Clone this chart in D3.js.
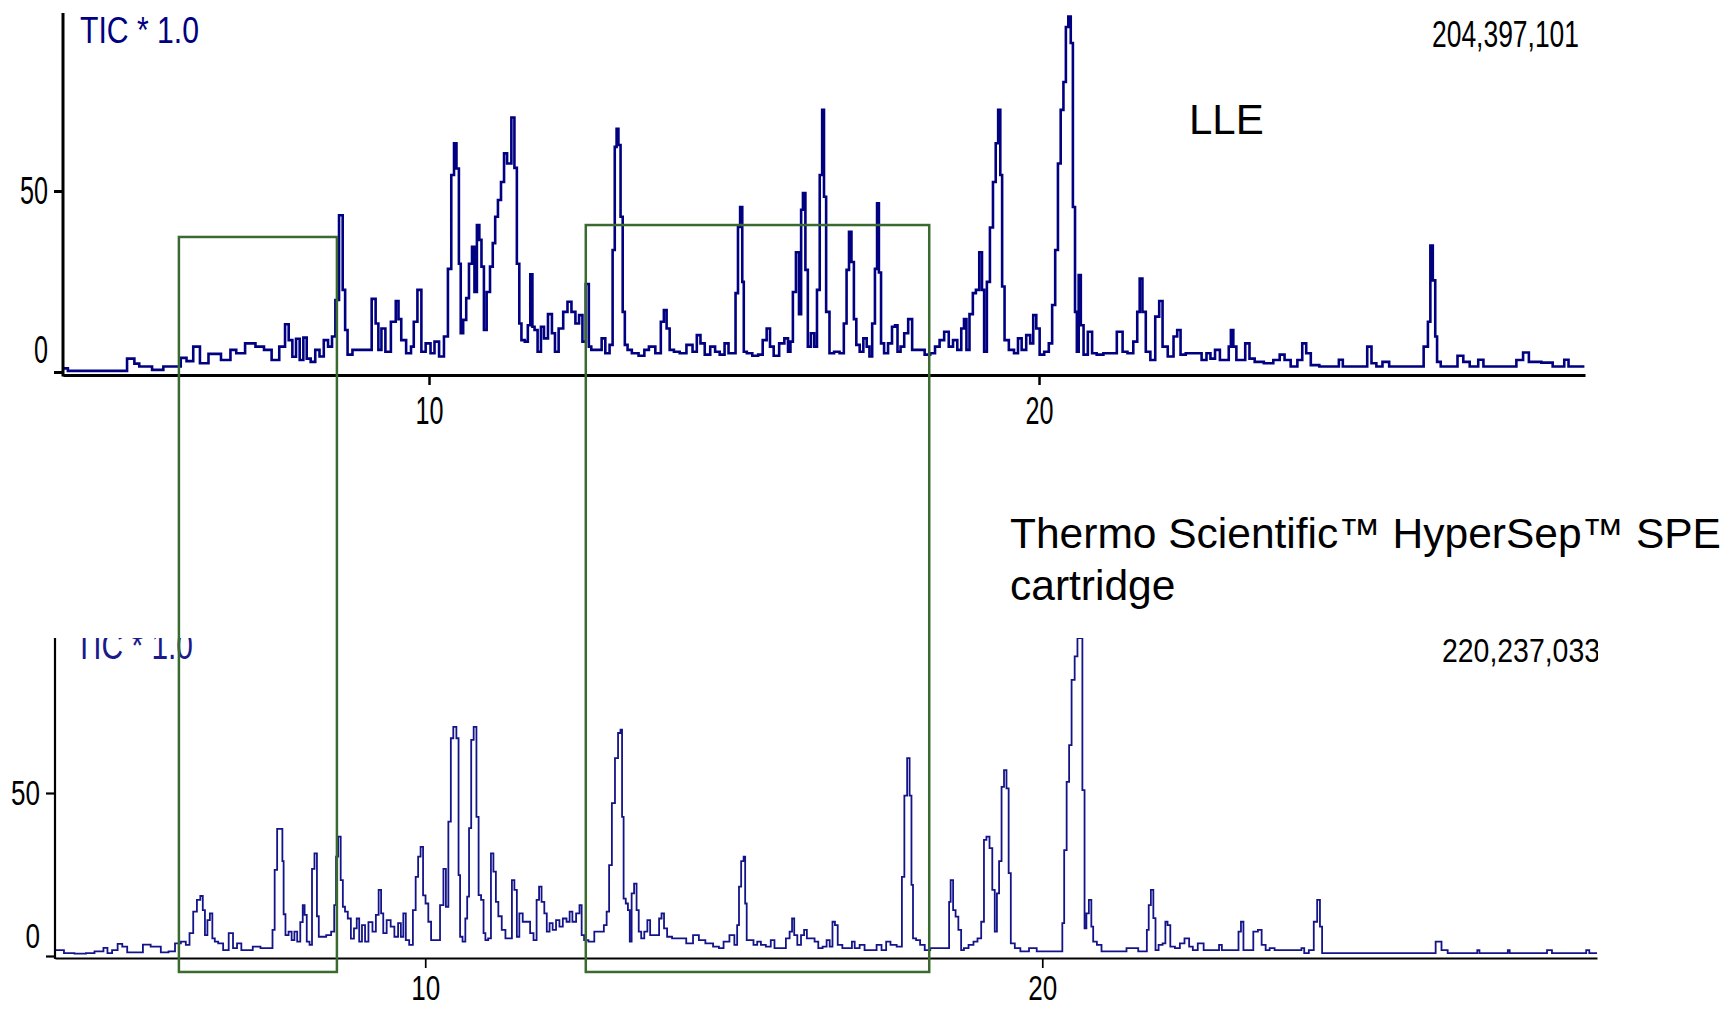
<!DOCTYPE html>
<html>
<head>
<meta charset="utf-8">
<script src="https://cdn.jsdelivr.net/npm/d3@7"></script>
<style>
  html, body { margin: 0; padding: 0; background: #fff; overflow: hidden; }
</style>
</head>
<body>
<div id="chart"></div>
<script>
// retention time (min), TIC signal (% of largest peak)
const lleTrace = [
  [4.00,1.0],[4.16,0.3],[4.97,0.3],[5.13,3.7],[5.21,2.3],[5.29,1.5],[5.63,0.6],[5.66,1.5],[5.88,1.5],[5.98,3.9],
  [6.07,3.0],[6.20,7.0],[6.29,2.4],[6.48,5.0],[6.70,3.3],[6.79,6.1],[6.89,5.2],[7.08,7.9],[7.23,7.0],[7.36,6.1],
  [7.48,3.3],[7.61,7.0],[7.67,13.2],[7.73,8.8],[7.79,4.2],[7.85,9.2],[7.91,3.3],[7.97,9.5],[8.02,3.7],[8.10,2.8],
  [8.17,6.1],[8.24,4.3],[8.31,8.8],[8.38,7.0],[8.44,9.8],[8.49,19.9],[8.56,43.3],[8.61,22.7],[8.64,11.6],[8.69,4.8],
  [8.80,6.1],[9.02,6.1],[9.10,20.2],[9.15,13.4],[9.19,6.1],[9.25,12.0],[9.32,5.6],[9.43,13.9],[9.48,19.6],[9.52,14.6],
  [9.57,8.8],[9.68,5.2],[9.73,7.0],[9.77,13.9],[9.85,22.7],[9.90,5.6],[9.99,7.9],[10.06,5.2],[10.12,8.4],[10.21,4.3],
  [10.28,9.8],[10.34,28.5],[10.39,54.4],[10.43,63.2],[10.47,56.2],[10.51,29.9],[10.53,10.7],[10.59,14.4],[10.63,20.4],[10.68,29.9],
  [10.73,34.6],[10.76,22.1],[10.81,40.6],[10.84,36.5],[10.88,29.1],[10.92,11.6],[10.97,22.1],[11.03,29.1],[11.06,35.6],[11.11,42.9],
  [11.15,47.5],[11.21,52.5],[11.25,60.4],[11.31,57.6],[11.39,70.3],[11.41,56.4],[11.47,29.9],[11.49,13.4],[11.54,8.8],[11.60,8.4],
  [11.64,12.9],[11.68,27.0],[11.71,12.5],[11.75,11.6],[11.81,5.6],[11.86,12.5],[11.91,9.3],[11.99,16.0],[12.04,10.7],[12.09,5.6],
  [12.16,12.0],[12.24,16.6],[12.30,19.4],[12.37,16.6],[12.43,13.4],[12.49,15.7],[12.54,8.4],[12.60,24.3],[12.64,7.0],[12.68,6.1],
  [12.81,6.1],[12.85,9.3],[12.93,5.2],[12.99,7.5],[13.03,33.7],[13.06,62.2],[13.09,67.2],[13.12,62.7],[13.16,42.9],[13.19,16.6],
  [13.23,7.5],[13.28,6.1],[13.37,5.2],[13.50,4.5],[13.56,6.1],[13.65,7.0],[13.77,5.2],[13.83,13.9],[13.87,17.1],[13.92,12.0],
  [13.97,6.1],[14.06,5.6],[14.16,5.2],[14.28,7.5],[14.36,5.6],[14.42,10.2],[14.48,7.9],[14.56,4.8],[14.66,7.0],[14.72,5.6],
  [14.81,4.8],[14.88,7.9],[14.94,5.2],[15.00,5.2],[15.05,21.8],[15.08,40.1],[15.12,45.6],[15.15,24.9],[15.17,5.6],[15.25,5.2],
  [15.35,4.5],[15.44,4.8],[15.50,8.8],[15.57,12.0],[15.61,7.0],[15.69,4.5],[15.79,7.9],[15.86,9.3],[15.91,5.6],[15.94,8.4],
  [15.99,22.1],[16.04,33.1],[16.09,16.0],[16.11,44.8],[16.15,49.4],[16.19,28.2],[16.23,7.0],[16.29,10.7],[16.34,7.0],[16.38,22.7],
  [16.43,54.4],[16.46,72.4],[16.49,48.4],[16.53,16.6],[16.60,5.2],[16.68,5.6],[16.78,5.2],[16.82,13.4],[16.87,28.2],[16.90,38.7],
  [16.95,30.4],[16.98,14.6],[17.03,7.5],[17.09,5.6],[17.15,9.3],[17.20,7.0],[17.24,4.3],[17.29,13.4],[17.33,28.5],[17.36,46.6],
  [17.39,27.5],[17.43,7.9],[17.49,5.2],[17.56,7.9],[17.62,12.5],[17.66,12.9],[17.70,5.6],[17.76,7.0],[17.82,10.7],[17.89,14.6],
  [17.95,6.1],[18.08,6.1],[18.17,4.8],[18.26,5.2],[18.33,7.0],[18.41,8.8],[18.48,11.1],[18.56,7.0],[18.62,8.8],[18.70,6.1],
  [18.75,12.0],[18.79,14.6],[18.83,6.1],[18.89,16.0],[18.94,21.8],[18.99,22.7],[19.05,33.1],[19.08,22.7],[19.12,5.6],[19.17,24.9],
  [19.22,39.9],[19.27,52.5],[19.31,63.2],[19.35,72.4],[19.38,54.4],[19.41,23.6],[19.46,8.8],[19.55,6.1],[19.63,5.2],[19.68,9.3],
  [19.75,6.1],[19.83,10.2],[19.88,7.9],[19.93,15.7],[19.98,12.0],[20.04,4.8],[20.13,5.6],[20.19,7.9],[20.24,18.5],[20.29,33.7],
  [20.33,57.6],[20.38,72.4],[20.42,80.1],[20.46,95.3],[20.50,98.2],[20.54,90.9],[20.57,45.6],[20.61,16.6],[20.63,5.6],[20.67,26.8],
  [20.70,12.9],[20.76,4.8],[20.84,11.1],[20.90,5.2],[20.99,4.8],[21.12,5.2],[21.21,5.2],[21.34,11.1],[21.40,5.6],[21.50,5.2],
  [21.59,8.4],[21.63,16.6],[21.67,25.8],[21.72,16.6],[21.78,5.6],[21.87,3.3],[21.94,15.3],[22.00,19.6],[22.05,7.0],[22.17,4.3],
  [22.24,9.8],[22.29,11.6],[22.35,4.8],[22.46,5.2],[22.62,5.2],[22.71,3.3],[22.78,5.2],[22.84,3.7],[22.93,6.1],[23.00,3.3],
  [23.09,3.3],[23.13,7.0],[23.16,11.6],[23.21,7.0],[23.26,3.3],[23.34,3.3],[23.42,7.9],[23.48,3.7],[23.59,2.8],[23.78,2.4],
  [23.90,3.3],[23.99,4.8],[24.06,3.3],[24.19,1.5],[24.28,3.3],[24.35,7.9],[24.41,5.2],[24.50,1.9],[24.69,1.5],[24.88,1.5],
  [24.95,3.4],[25.01,1.5],[25.13,1.5],[25.35,1.5],[25.41,7.0],[25.49,2.4],[25.57,1.5],[25.69,2.8],[25.79,1.5],[26.26,1.5],
  [26.35,7.0],[26.40,13.9],[26.43,34.9],[26.48,25.3],[26.51,9.8],[26.54,2.8],[26.63,1.5],[26.79,1.5],[26.93,4.5],[26.98,2.8],
  [27.14,1.5],[27.26,3.4],[27.31,1.5],[27.76,1.5],[27.89,3.3],[27.98,5.4],[28.08,2.8],[28.39,2.6],[28.45,1.5],[28.58,1.5],
  [28.64,3.4],[28.72,1.5],[28.94,1.5]
];

const speTrace = [
  [4.01,1.8],[4.13,1.8],[4.16,0.9],[4.47,0.7],[4.53,0.9],[4.75,1.4],[4.82,2.5],[4.88,0.9],[4.97,1.8],[5.06,3.7],
  [5.12,2.9],[5.22,1.1],[5.40,1.1],[5.45,3.5],[5.65,2.9],[5.78,1.1],[5.90,1.4],[5.99,3.9],[6.09,4.4],[6.15,3.4],
  [6.21,7.0],[6.27,13.6],[6.33,17.2],[6.38,18.4],[6.41,14.1],[6.45,6.4],[6.49,11.0],[6.53,13.1],[6.57,5.4],[6.61,4.4],
  [6.68,3.9],[6.77,1.8],[6.86,7.0],[6.91,2.4],[6.99,3.9],[7.05,1.8],[7.14,1.8],[7.27,2.9],[7.39,2.4],[7.51,2.4],
  [7.54,8.0],[7.58,26.4],[7.62,39.0],[7.67,39.0],[7.70,29.1],[7.71,12.8],[7.76,6.4],[7.81,7.5],[7.86,4.9],[7.90,7.5],
  [7.95,4.4],[8.00,10.4],[8.03,15.6],[8.06,12.6],[8.10,4.4],[8.15,3.4],[8.18,26.7],[8.23,31.5],[8.26,12.2],[8.29,5.9],
  [8.35,5.9],[8.44,6.4],[8.51,7.5],[8.54,15.6],[8.57,30.5],[8.61,36.6],[8.65,23.3],[8.68,15.1],[8.72,13.6],[8.77,11.5],
  [8.82,5.3],[8.87,8.5],[8.91,11.5],[8.95,4.4],[9.00,9.5],[9.05,4.4],[9.11,10.4],[9.18,7.5],[9.22,12.6],[9.27,20.3],
  [9.30,13.1],[9.34,7.0],[9.41,11.0],[9.47,9.0],[9.53,5.9],[9.59,10.1],[9.62,5.9],[9.67,13.1],[9.70,4.9],[9.78,3.4],
  [9.82,14.1],[9.87,24.3],[9.90,30.5],[9.95,33.5],[9.98,18.6],[10.03,16.1],[10.07,10.5],[10.12,4.9],[10.21,4.9],[10.27,15.6],
  [10.32,26.7],[10.35,15.1],[10.40,41.2],[10.43,66.8],[10.48,70.3],[10.53,66.8],[10.55,24.8],[10.58,5.9],[10.63,4.4],[10.67,11.5],
  [10.69,18.2],[10.73,39.2],[10.76,66.3],[10.81,70.3],[10.85,42.7],[10.88,18.7],[10.93,17.2],[10.96,7.0],[10.99,4.9],[11.05,5.4],
  [11.08,31.5],[11.13,25.9],[11.16,16.6],[11.21,12.2],[11.27,8.0],[11.33,5.4],[11.39,5.4],[11.42,23.3],[11.47,20.3],[11.50,5.9],
  [11.55,13.1],[11.61,10.5],[11.67,10.5],[11.73,7.0],[11.78,4.9],[11.83,17.2],[11.86,21.3],[11.91,16.6],[11.95,13.1],[11.99,7.5],
  [12.04,10.1],[12.09,8.0],[12.15,11.0],[12.20,9.0],[12.26,11.5],[12.32,10.5],[12.36,13.6],[12.41,10.5],[12.48,13.1],[12.52,15.6],
  [12.55,6.4],[12.60,4.9],[12.69,4.4],[12.79,7.5],[12.87,7.5],[12.92,9.5],[12.96,13.6],[13.00,27.9],[13.05,46.9],[13.10,60.7],
  [13.15,68.4],[13.18,69.4],[13.20,42.7],[13.23,17.6],[13.27,16.1],[13.30,14.1],[13.33,4.4],[13.36,19.2],[13.41,22.2],[13.44,14.1],
  [13.48,7.5],[13.52,5.4],[13.58,7.5],[13.62,11.0],[13.67,6.4],[13.77,6.4],[13.81,11.5],[13.85,13.1],[13.89,8.5],[13.95,5.9],
  [14.05,5.4],[14.17,5.4],[14.29,3.9],[14.39,6.4],[14.48,4.9],[14.60,3.9],[14.73,2.9],[14.79,2.4],[14.88,4.4],[14.98,6.4],
  [15.04,3.4],[15.07,9.5],[15.10,21.3],[15.14,29.1],[15.18,30.5],[15.19,16.1],[15.23,4.9],[15.29,4.9],[15.35,3.4],[15.41,4.4],
  [15.47,3.4],[15.57,2.9],[15.63,4.9],[15.69,2.4],[15.81,2.4],[15.88,5.4],[15.93,7.5],[15.96,11.5],[16.00,6.4],[16.06,3.4],
  [16.12,6.4],[16.16,8.0],[16.21,5.4],[16.28,5.4],[16.34,4.4],[16.40,2.4],[16.48,2.9],[16.53,4.9],[16.58,2.9],[16.62,10.5],
  [16.66,9.5],[16.71,3.4],[16.81,2.4],[16.90,2.4],[16.93,4.4],[16.99,2.4],[17.09,3.4],[17.15,1.8],[17.27,1.8],[17.36,3.4],
  [17.43,1.8],[17.51,4.4],[17.57,3.4],[17.71,2.9],[17.74,24.3],[17.79,49.2],[17.83,60.7],[17.87,49.2],[17.89,21.8],[17.92,5.4],
  [17.99,4.9],[18.05,3.4],[18.14,1.8],[18.23,2.4],[18.48,2.4],[18.50,16.6],[18.53,23.3],[18.58,14.1],[18.61,12.1],[18.67,8.0],
  [18.70,1.8],[18.76,2.4],[18.85,3.4],[18.92,4.4],[18.98,5.4],[19.04,10.5],[19.07,35.6],[19.12,36.6],[19.17,33.1],[19.21,20.3],
  [19.25,7.5],[19.28,19.2],[19.32,29.1],[19.36,51.9],[19.40,57.0],[19.44,51.4],[19.47,25.4],[19.51,3.9],[19.60,2.4],[19.69,1.4],
  [19.88,2.4],[19.94,1.4],[20.31,1.4],[20.34,10.1],[20.37,32.5],[20.42,53.4],[20.45,64.7],[20.50,84.7],[20.55,91.9],[20.59,97.5],
  [20.63,97.5],[20.67,50.9],[20.70,8.5],[20.73,13.1],[20.78,17.2],[20.81,9.0],[20.84,4.4],[20.93,3.4],[20.99,1.4],[21.30,1.4],
  [21.43,2.4],[21.68,1.4],[21.71,8.0],[21.74,15.6],[21.78,20.3],[21.82,11.6],[21.85,1.8],[21.92,3.4],[21.98,3.9],[22.01,10.5],
  [22.05,9.5],[22.10,2.9],[22.20,2.4],[22.26,3.9],[22.35,5.4],[22.41,2.9],[22.47,1.8],[22.57,3.9],[22.66,1.8],[22.85,1.8],
  [22.88,3.4],[22.94,1.8],[23.16,1.8],[23.20,7.5],[23.24,10.5],[23.28,1.8],[23.37,1.8],[23.47,7.5],[23.52,8.0],[23.59,3.4],
  [23.65,1.8],[23.72,2.4],[23.81,1.8],[24.18,1.8],[24.22,2.4],[24.27,0.9],[24.37,1.8],[24.43,10.5],[24.48,17.2],[24.52,9.0],
  [24.55,0.9],[26.32,0.9],[26.43,4.4],[26.51,1.8],[26.63,0.9],[27.03,0.9],[27.07,1.8],[27.10,0.9],[27.53,0.9],[27.56,1.8],
  [27.59,0.9],[28.15,0.9],[28.21,1.8],[28.31,0.9],[28.80,0.9],[28.83,1.8],[28.90,0.9],[28.99,0.9]
];

const timeTicks = [10, 20];
const signalTicks = [0, 50];
const panelTitles = ['TIC * 1.0', 'TIC * 1.0'];
const panelTotals = ['204,397,101', '220,237,033'];
const methodLabels = ['LLE', 'Thermo Scientific\u2122 HyperSep\u2122 SPE', 'cartridge'];

// highlighted retention windows (min) and the LLE signal level of their top edge
const windowStart = [5.9, 12.57];
const windowEnd = [8.49, 18.2];
const windowTop = [37.3, 40.6];

const WIDTH = 1726;
const HEIGHT = 1009;
// squeezed with textLength to mimic the instrument's narrow screen font
const narrowFont = '"Liberation Sans", Arial, sans-serif';
const textFont = '"Liberation Sans", Arial, sans-serif';

const svg = d3
  .select('#chart')
  .append('svg')
  .attr('width', WIDTH)
  .attr('height', HEIGHT)
  .style('display', 'block');

const panels = [
  {
    id: 'lle', trace: lleTrace, title: panelTitles[0], total: panelTotals[0],
    left: 63, right: 1585, tEnd: 28.95, zeroY: 372, fullY: 10, axisY: 375, axisTop: 13,
    clipTop: 0, clipRight: WIDTH, lineColor: '#000080', lineWidth: 2.6, axisWidth: 3,
    labelSize: 39, charWidth: 14, xPad: 11, zeroLift: -22,
    titleX: 80, titleY: 43, titleSize: 36, titleWidth: 119, titleColor: '#000080',
    totalX: 1432, totalY: 47, totalSize: 37, totalWidth: 147,
  },
  {
    id: 'spe', trace: speTrace, title: panelTitles[1], total: panelTotals[1],
    left: 55, right: 1597, tEnd: 28.99, zeroY: 956, fullY: 630, axisY: 958, axisTop: 630,
    clipTop: 638, clipRight: 1598, lineColor: '#14148a', lineWidth: 1.8, axisWidth: 2.2,
    labelSize: 35, charWidth: 14.5, xPad: 7, zeroLift: -20,
    titleX: 75, titleY: 659, titleSize: 38, titleWidth: 118, titleColor: '#1a1a8c',
    totalX: 1442, totalY: 662, totalSize: 33, totalWidth: 158,
  },
];

const drawPanel = (p) => {
  const x = d3.scaleLinear().domain([4, p.tEnd]).range([p.left, p.right]);
  const y = d3.scaleLinear().domain([0, 100]).range([p.zeroY, p.fullY]);

  svg
    .append('clipPath')
    .attr('id', `clip-${p.id}`)
    .append('rect')
    .attr('x', 0)
    .attr('y', p.clipTop)
    .attr('width', p.clipRight)
    .attr('height', HEIGHT - p.clipTop);

  const g = svg.append('g').attr('clip-path', `url(#clip-${p.id})`);

  const line = d3
    .line()
    .x((d) => x(d[0]))
    .y((d) => y(d[1]))
    .curve(d3.curveStep);

  g.append('path')
    .datum(p.trace)
    .attr('d', line)
    .attr('fill', 'none')
    .attr('stroke', p.lineColor)
    .attr('stroke-width', p.lineWidth)
    .attr('stroke-linejoin', 'miter');

  // y axis
  const yAxis = d3
    .axisLeft(y)
    .tickValues(signalTicks)
    .tickSize(9)
    .tickSizeOuter(0)
    .tickPadding(6)
    .tickFormat(d3.format('d'));

  const yg = g
    .append('g')
    .attr('transform', `translate(${p.left},0)`)
    .call(yAxis);
  yg.select('.domain').remove();
  yg.selectAll('.tick line').attr('stroke', '#000').attr('stroke-width', p.axisWidth);
  yg.selectAll('.tick text')
    .attr('font-family', narrowFont)
    .attr('font-size', p.labelSize)
    .attr('fill', '#000')
    .attr('textLength', (d) => String(d).length * p.charWidth)
    .attr('lengthAdjust', 'spacingAndGlyphs')
    .attr('y', (d) => (d === 0 ? p.zeroLift : 0));

  g.append('line')
    .attr('x1', p.left)
    .attr('x2', p.left)
    .attr('y1', p.axisTop)
    .attr('y2', p.axisY + p.axisWidth / 2)
    .attr('stroke', '#000')
    .attr('stroke-width', p.axisWidth);

  // x axis
  const xAxis = d3
    .axisBottom(x)
    .tickValues(timeTicks)
    .tickSize(10)
    .tickSizeOuter(0)
    .tickPadding(p.xPad)
    .tickFormat(d3.format('d'));

  const xg = g
    .append('g')
    .attr('transform', `translate(0,${p.axisY})`)
    .call(xAxis);
  xg.select('.domain').attr('stroke', '#000').attr('stroke-width', p.axisWidth);
  xg.selectAll('.tick line').attr('stroke', '#000').attr('stroke-width', p.axisWidth - 0.5);
  xg.selectAll('.tick text')
    .attr('font-family', narrowFont)
    .attr('font-size', p.labelSize)
    .attr('fill', '#000')
    .attr('textLength', (d) => String(d).length * p.charWidth)
    .attr('lengthAdjust', 'spacingAndGlyphs');

  // instrument captions
  g.append('text')
    .attr('x', p.titleX)
    .attr('y', p.titleY)
    .attr('font-family', narrowFont)
    .attr('font-size', p.titleSize)
    .attr('fill', p.titleColor)
    .attr('textLength', p.titleWidth)
    .attr('lengthAdjust', 'spacingAndGlyphs')
    .text(p.title);

  g.append('text')
    .attr('x', p.totalX)
    .attr('y', p.totalY)
    .attr('font-family', narrowFont)
    .attr('font-size', p.totalSize)
    .attr('fill', '#000')
    .attr('textLength', p.totalWidth)
    .attr('lengthAdjust', 'spacingAndGlyphs')
    .text(p.total);

  return { x, y };
};

const [lleScales, speScales] = panels.map(drawPanel);

// method labels
svg.append('text')
  .attr('x', 1189)
  .attr('y', 134)
  .attr('font-family', textFont)
  .attr('font-size', 42)
  .attr('fill', '#000')
  .text(methodLabels[0]);

svg.append('text')
  .attr('x', 1010)
  .attr('y', 548)
  .attr('font-family', textFont)
  .attr('font-size', 42.5)
  .attr('fill', '#000')
  .text(methodLabels[1]);

svg.append('text')
  .attr('x', 1010)
  .attr('y', 600)
  .attr('font-family', textFont)
  .attr('font-size', 42.5)
  .attr('fill', '#000')
  .text(methodLabels[2]);

// green boxes spanning both chromatograms
svg.append('g')
  .selectAll('rect')
  .data(windowStart)
  .join('rect')
  .attr('x', (d) => lleScales.x(d))
  .attr('y', (_, i) => lleScales.y(windowTop[i]))
  .attr('width', (d, i) => lleScales.x(windowEnd[i]) - lleScales.x(d))
  .attr('height', (_, i) => speScales.y(-4.9) - lleScales.y(windowTop[i]))
  .attr('fill', 'none')
  .attr('stroke', '#3b6a30')
  .attr('stroke-width', 2.5);
</script>
</body>
</html>
